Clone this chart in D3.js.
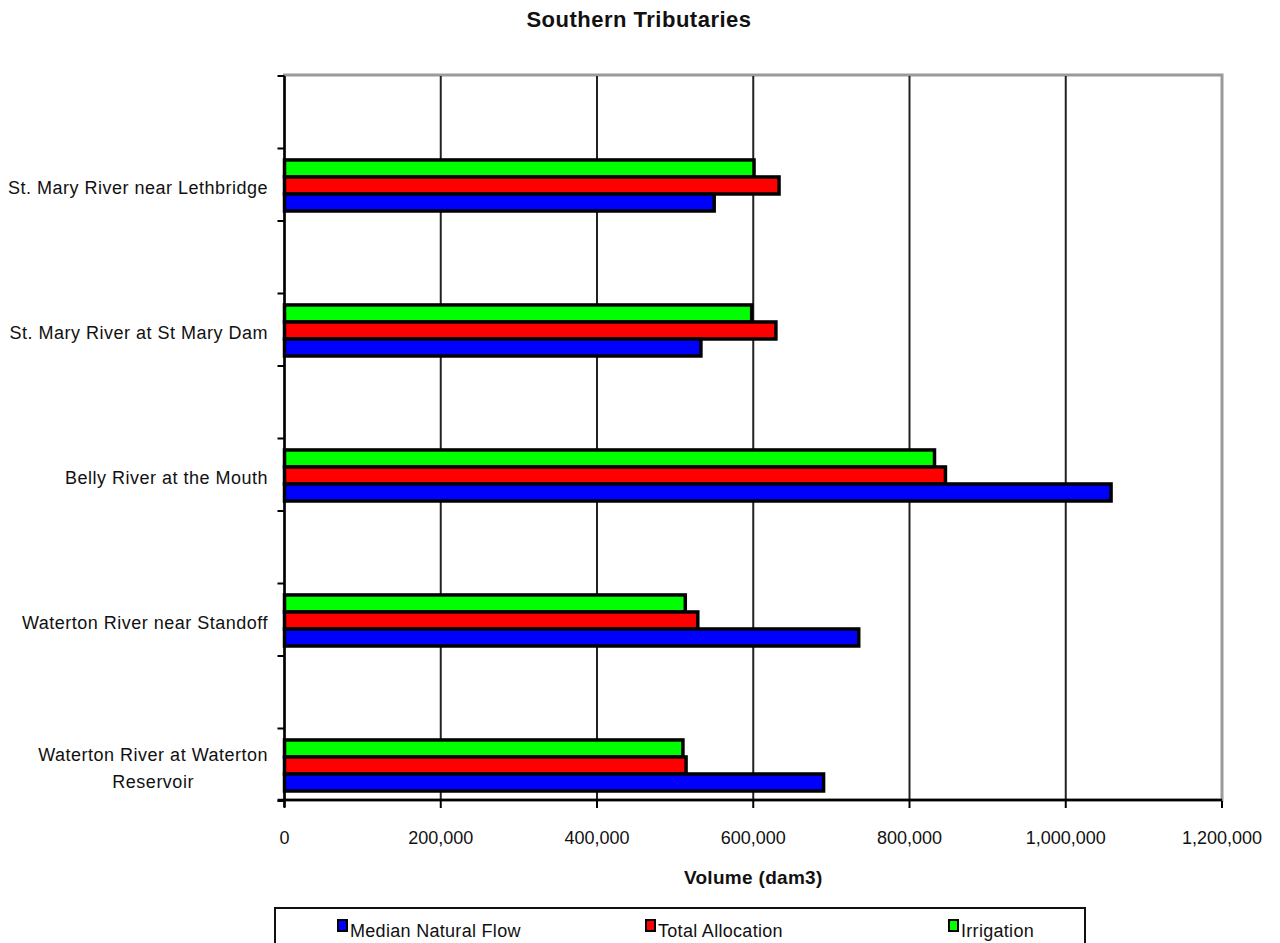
<!DOCTYPE html>
<html>
<head>
<meta charset="utf-8">
<script src="https://cdn.jsdelivr.net/npm/d3@7"></script>
<style>
  body { margin: 0; background: #fff; }
  svg { display: block; font-family: Arial, "Liberation Sans", sans-serif; }
</style>
</head>
<body>
<svg id="chart" width="1280" height="943"></svg>
<script>
const categories = [
  "St. Mary River near Lethbridge",
  "St. Mary River at St Mary Dam",
  "Belly River at the Mouth",
  "Waterton River near Standoff",
  "Waterton River at Waterton|Reservoir"
];
const medianNaturalFlow = [550000, 533000, 1058000, 735000, 690000];
const totalAllocation   = [633000, 629000, 846000, 529000, 514000];
const irrigation        = [601000, 598000, 832000, 513000, 510000];
const seriesNames = ["Median Natural Flow", "Total Allocation", "Irrigation"];
const seriesColors = ["#0000ff", "#ff0000", "#00ff00"];
const xTickValues = [0, 200000, 400000, 600000, 800000, 1000000, 1200000];

const svg = d3.select("#chart");
const X0 = 284.5, X1 = 1222, Y0 = 76, Y1 = 801;

const x = d3.scaleLinear().domain([0, 1200000]).range([X0, X1]);
const y = d3.scaleBand().domain(categories).range([Y0, Y1]).padding(0);
const bw = y.bandwidth();
const drawOrder = ["Irrigation", "Total Allocation", "Median Natural Flow"];
const sub = d3.scaleBand().domain(drawOrder).range([0.579 * bw, 0.931 * bw]).padding(0);

const data = {
  "Median Natural Flow": medianNaturalFlow,
  "Total Allocation": totalAllocation,
  "Irrigation": irrigation
};
const colorOf = d3.scaleOrdinal().domain(seriesNames).range(seriesColors);

// Title
svg.append("text").attr("x", 639).attr("y", 27).attr("text-anchor", "middle")
  .attr("font-weight", "bold").attr("font-size", 22).attr("letter-spacing", 0.5).attr("fill", "#111")
  .text("Southern Tributaries");

// Frame (grey top/right)
svg.append("rect").attr("x", X0).attr("y", Y0 - 1).attr("width", X1 - X0).attr("height", Y1 - Y0)
  .attr("fill", "none").attr("stroke", "#9a9a9a").attr("stroke-width", 3);

// Gridlines
svg.append("g").selectAll("line").data(xTickValues.filter(v => v > 0 && v < 1200000)).join("line")
  .attr("x1", d => x(d)).attr("x2", d => x(d)).attr("y1", Y0).attr("y2", Y1)
  .attr("stroke", "#222").attr("stroke-width", 2);

// Bars
const groups = svg.append("g").selectAll("g").data(categories).join("g")
  .attr("transform", d => `translate(0,${y(d)})`);
groups.each(function(cat, i) {
  d3.select(this).selectAll("rect").data(drawOrder).join("rect")
    .attr("x", x(0))
    .attr("y", s => sub(s))
    .attr("width", s => x(data[s][i]) - x(0))
    .attr("height", sub.bandwidth())
    .attr("fill", s => colorOf(s))
    .attr("stroke", "#000").attr("stroke-width", 3.5);
});

// Left axis line & ticks
svg.append("line").attr("x1", X0).attr("x2", X0).attr("y1", Y0).attr("y2", Y1 + 6)
  .attr("stroke", "#000").attr("stroke-width", 2.5);
const leftTicks = [];
categories.forEach(c => { leftTicks.push(y(c)); leftTicks.push(y(c) + bw / 2); });
leftTicks.push(Y1);
svg.append("g").selectAll("line").data(leftTicks).join("line")
  .attr("x1", X0 - 7).attr("x2", X0).attr("y1", d => d).attr("y2", d => d)
  .attr("stroke", "#000").attr("stroke-width", 2);

// Bottom axis
svg.append("line").attr("x1", X0 - 7).attr("x2", X1).attr("y1", Y1 - 1).attr("y2", Y1 - 1)
  .attr("stroke", "#000").attr("stroke-width", 2.5);
svg.append("g").selectAll("line").data(xTickValues).join("line")
  .attr("x1", d => x(d)).attr("x2", d => x(d)).attr("y1", Y1).attr("y2", Y1 + 7)
  .attr("stroke", "#000").attr("stroke-width", 2);
const fmt = d3.format(",");
svg.append("g").selectAll("text").data(xTickValues).join("text")
  .attr("x", d => x(d)).attr("y", 844).attr("text-anchor", "middle")
  .attr("font-size", 18).attr("fill", "#111").text(d => fmt(d));

// Axis title
svg.append("text").attr("x", (X0 + X1) / 2).attr("y", 884).attr("text-anchor", "middle")
  .attr("font-weight", "bold").attr("font-size", 19).attr("letter-spacing", 0.3).attr("fill", "#111").text("Volume (dam3)");

// Category labels
categories.forEach(c => {
  const lines = c.split("|");
  const cy = y(c) + sub(drawOrder[1]) + sub.bandwidth() / 2 + 3;
  if (lines.length === 1) {
    svg.append("text").attr("x", 268).attr("y", cy + 6).attr("text-anchor", "end")
      .attr("font-size", 18).attr("letter-spacing", 0.5).attr("fill", "#111").text(lines[0]);
  } else {
    const t1 = svg.append("text").attr("x", 268).attr("y", cy - 7).attr("text-anchor", "end")
      .attr("font-size", 18).attr("letter-spacing", 0.5).attr("fill", "#111").text(lines[0]);
    const w = t1.node().getComputedTextLength();
    svg.append("text").attr("x", 268 - w / 2).attr("y", cy + 20).attr("text-anchor", "middle")
      .attr("font-size", 18).attr("letter-spacing", 0.5).attr("fill", "#111").text(lines[1]);
  }
});

// Legend
svg.append("rect").attr("x", 275).attr("y", 908).attr("width", 810).attr("height", 50)
  .attr("fill", "#fff").attr("stroke", "#111").attr("stroke-width", 2);
const legendX = [338, 646, 949];
const lg = svg.append("g").selectAll("g").data(seriesNames).join("g")
  .attr("transform", (d, i) => `translate(${legendX[i]},920)`);
lg.append("rect").attr("x", 0).attr("y", 0).attr("width", 9).attr("height", 11)
  .attr("fill", d => colorOf(d)).attr("stroke", "#000").attr("stroke-width", 2);
lg.append("text").attr("x", 12).attr("y", 17).attr("font-size", 18).attr("letter-spacing", 0.3)
  .attr("fill", "#111").text(d => d);
</script>
</body>
</html>
